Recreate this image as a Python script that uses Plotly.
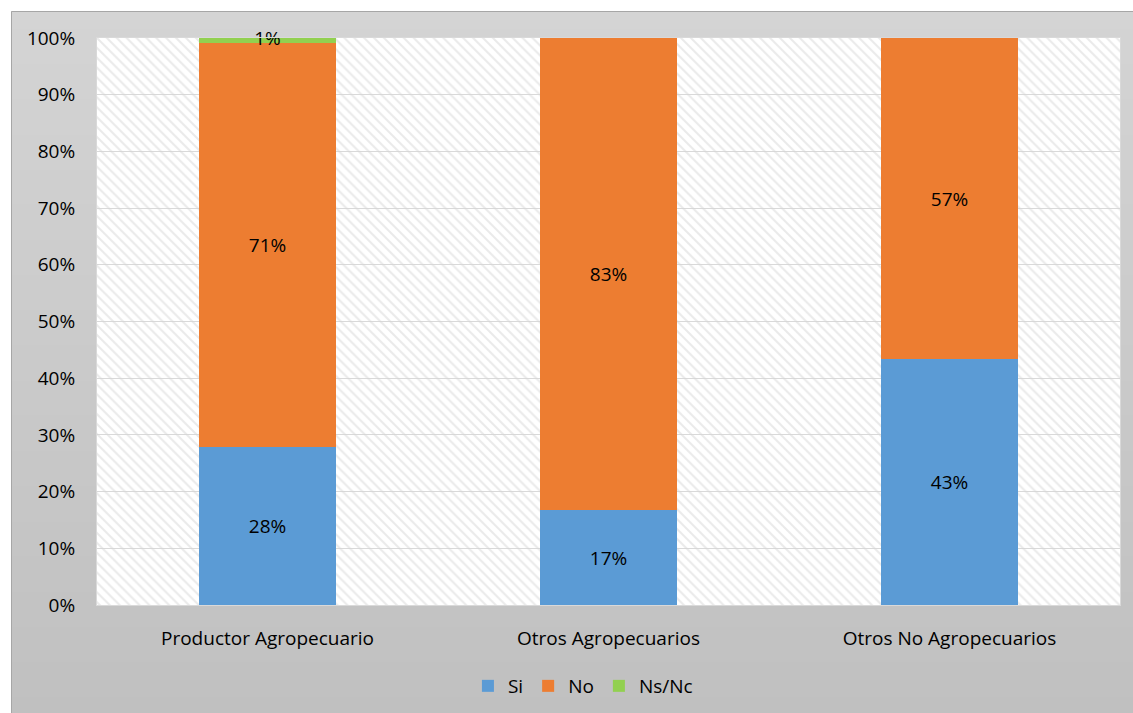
import plotly.graph_objects as go

categories = ["Productor Agropecuario", "Otros Agropecuarios", "Otros No Agropecuarios"]
si = [27.9, 16.7, 43.4]
no = [71.2, 83.3, 56.6]
nsnc = [0.9, 0.0, 0.0]
si_labels = ["28%", "17%", "43%"]
no_labels = ["71%", "83%", "57%"]
nsnc_labels = ["1%", "", ""]
y_ticks = [0, 10, 20, 30, 40, 50, 60, 70, 80, 90, 100]
y_ticklabels = [f"{v}%" for v in y_ticks]

W, H = 1133, 713
L, R, T, B = 97, 13, 38, 108
pw, ph = W - L - R, H - T - B

def px(x):
    return (x - L) / pw

def py(y):
    return (H - B - y) / ph

FONT = "Open Sans"
FS = 19
xs = list(range(len(categories)))

fig = go.Figure()

# hatched plot background
fig.add_trace(go.Bar(
    x=[1], y=[100], base=[0], width=[3],
    marker=dict(color="rgba(0,0,0,0)", line=dict(width=0),
                pattern=dict(shape="\\", size=7, solidity=0.3,
                             fgcolor="#d6d6d6", fillmode="overlay")),
    hoverinfo="skip", showlegend=False,
))

base_no = [s for s in si]
base_ns = [s + n for s, n in zip(si, no)]

fig.add_trace(go.Bar(
    name="Si", x=xs, y=si, base=[0] * len(si), width=0.4,
    marker=dict(color="#5B9BD5", line=dict(width=0)),
    text=si_labels, textposition="inside", insidetextanchor="middle",
    textfont=dict(color="black", size=FS, family=FONT),
))
fig.add_trace(go.Bar(
    name="No", x=xs, y=no, base=base_no, width=0.4,
    marker=dict(color="#ED7D31", line=dict(width=0)),
    text=no_labels, textposition="inside", insidetextanchor="middle",
    textfont=dict(color="black", size=FS, family=FONT),
))
fig.add_trace(go.Bar(
    name="Ns/Nc", x=xs, y=nsnc, base=base_ns, width=0.4,
    marker=dict(color="#92D050", line=dict(width=0)),
    hoverinfo="skip",
))
fig.add_trace(go.Scatter(
    x=xs, y=[b + v / 2 for b, v in zip(base_ns, nsnc)], mode="text",
    text=nsnc_labels, textfont=dict(color="black", size=FS, family=FONT),
    showlegend=False, hoverinfo="skip", cliponaxis=False,
))

# gradient chart background (overlapping bands, no gaps)
shapes = []
n = 40
top, bot = 11, H + 2
for i in range(n):
    y0 = top + (bot - top) * i / n
    t = i / (n - 1)
    c = int(round(212 + (192 - 212) * t))
    shapes.append(dict(type="rect", xref="paper", yref="paper", layer="below",
                       x0=px(11), x1=px(W + 2), y0=py(bot), y1=py(y0),
                       fillcolor=f"rgb({c},{c},{c})", line=dict(width=0)))
shapes.append(dict(type="rect", xref="paper", yref="paper", layer="below",
                   x0=px(11.5), x1=px(W + 5), y0=py(H + 5), y1=py(11.5),
                   fillcolor="rgba(0,0,0,0)", line=dict(color="#a6a6a6", width=1)))
shapes.append(dict(type="rect", xref="paper", yref="paper", layer="below",
                   x0=0, x1=1, y0=0, y1=1, fillcolor="white", line=dict(width=0)))

fig.update_layout(
    width=W, height=H,
    margin=dict(l=L, r=R, t=T, b=B, autoexpand=False),
    paper_bgcolor="white", plot_bgcolor="rgba(0,0,0,0)",
    barmode="overlay", bargap=0,
    shapes=shapes,
    font=dict(family=FONT, size=FS, color="black"),
    xaxis=dict(range=[-0.5, 2.5], tickvals=xs, ticktext=categories,
               showgrid=False, showline=True, linecolor="#d9d9d9", mirror=True,
               ticks="", tickfont=dict(size=FS, family=FONT), zeroline=False,
               ticklabelstandoff=16, automargin=False),
    yaxis=dict(range=[0, 100], tickvals=y_ticks, ticktext=y_ticklabels,
               showgrid=True, gridcolor="#d9d9d9", gridwidth=1,
               showline=True, linecolor="#d9d9d9", mirror=True,
               ticks="", tickfont=dict(size=FS, family=FONT),
               zeroline=False, ticklabelstandoff=17, automargin=False),
    legend=dict(orientation="h", x=0.475, xanchor="center", y=py(686), yanchor="middle",
                bgcolor="rgba(0,0,0,0)", font=dict(size=FS, family=FONT),
                traceorder="normal", itemwidth=30),
)

fig.write_html("out.html", config={"displayModeBar": False},
               post_script="document.body.style.margin='0';document.body.style.overflow='hidden';")
